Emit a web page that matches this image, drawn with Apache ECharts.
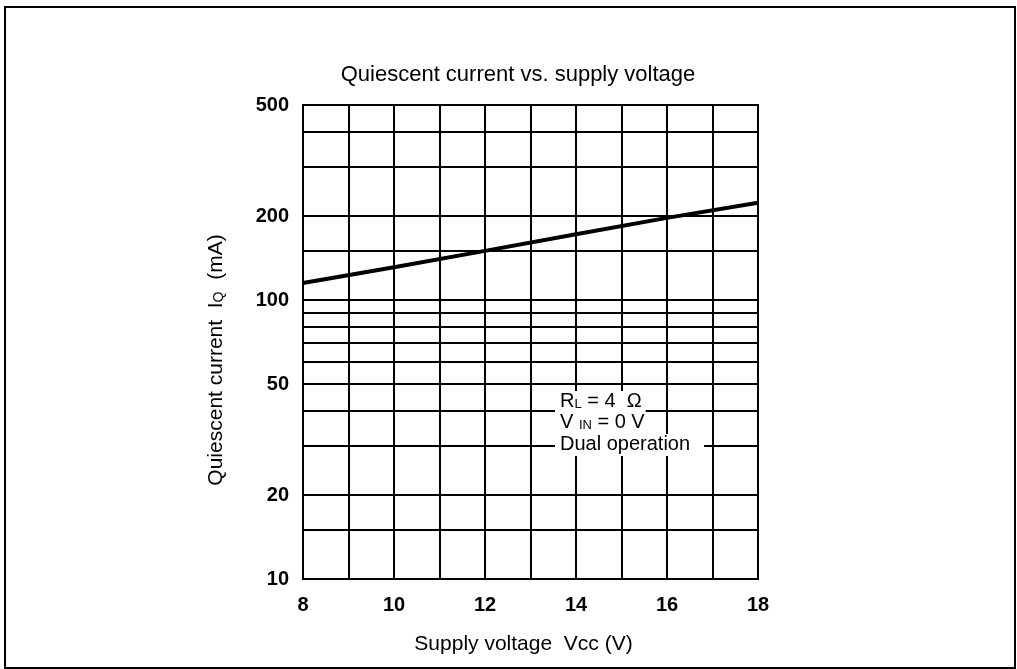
<!DOCTYPE html>
<html>
<head>
<meta charset="utf-8">
<script src="https://cdn.jsdelivr.net/npm/echarts@6/dist/echarts.min.js"></script>
<style>
html,body{margin:0;padding:0;background:#fff;}
#chart{width:1017px;height:669px;}
</style>
</head>
<body>
<div id="chart"></div>
<script>
// Data
const supplyVoltage = [8, 10, 12, 14, 16, 18];
const quiescentCurrent = [115, 131, 150, 172, 197, 223];
const yGridValues = [15, 20, 30, 40, 50, 60, 70, 80, 90, 100, 150, 200, 300, 400];
const yLabelValues = [10, 20, 50, 100, 200, 500];
const xLabelValues = [8, 10, 12, 14, 16, 18];

const FONT = '"Liberation Sans", Arial, Helvetica, sans-serif';
const chart = echarts.init(document.getElementById('chart'));

chart.setOption({
  backgroundColor: '#fff',
  animation: false,
  textStyle: { fontFamily: FONT, color: '#000' },
  title: {
    text: 'Quiescent current vs. supply voltage',
    left: 513, top: 59, textAlign: 'center',
    textStyle: { fontFamily: FONT, fontSize: 22, fontWeight: 'normal', color: '#000' }
  },
  grid: {
    left: 303, right: 259, top: 105, bottom: 90,
    show: true, borderColor: '#000', borderWidth: 2, backgroundColor: 'transparent'
  },
  xAxis: {
    type: 'value', min: 8, max: 18, interval: 1,
    name: 'Supply voltage  Vcc (V)',
    nameLocation: 'middle', nameGap: 55,
    nameTextStyle: { fontFamily: FONT, fontSize: 21, color: '#000', padding: [0, 14, 0, 0] },
    axisLine: { show: true, lineStyle: { color: '#000', width: 2 } },
    axisTick: { show: false },
    splitLine: { show: true, lineStyle: { color: '#000', width: 2 } },
    axisLabel: {
      margin: 16, fontFamily: FONT, fontSize: 20, fontWeight: 'bold', color: '#000',
      formatter: v => xLabelValues.includes(v) ? String(v) : ''
    }
  },
  yAxis: {
    type: 'log', logBase: 10, min: 10, max: 500,
    name: '{n|Quiescent current  I}{s|Q}{n|  (mA)}',
    nameLocation: 'middle', nameGap: 76, nameRotate: 90,
    nameTextStyle: {
      fontFamily: FONT, fontSize: 21, color: '#000', padding: [0, 36, 0, 0],
      rich: {
        n: { fontFamily: FONT, fontSize: 21, color: '#000' },
        s: { fontFamily: FONT, fontSize: 14, color: '#000', padding: [6, 0, 0, 0] }
      }
    },
    axisLine: { show: true, lineStyle: { color: '#000', width: 2 } },
    axisTick: { show: false },
    splitLine: { show: false },
    axisLabel: {
      customValues: yLabelValues,
      margin: 14, fontFamily: FONT, fontSize: 20, fontWeight: 'bold', color: '#000'
    }
  },
  series: [
    {
      type: 'line', data: [], z: 1, silent: true,
      markLine: {
        silent: true, symbol: ['none', 'none'], label: { show: false },
        lineStyle: { color: '#000', width: 2, type: 'solid' },
        data: yGridValues.map(v => ({ yAxis: v }))
      }
    },
    {
      type: 'line', z: 5,
      data: supplyVoltage.map((x, i) => [x, quiescentCurrent[i]]),
      showSymbol: false, symbol: 'none',
      lineStyle: { color: '#000', width: 4 }
    }
  ],
  graphic: [
    {
      type: 'rect', z: 100, silent: true,
      shape: { x: 5, y: 7, width: 1010, height: 661 },
      style: { fill: 'none', stroke: '#000', lineWidth: 2 }
    },
    {
      type: 'text', left: 555, top: 391, z: 100,
      style: {
        text: '{n|R}{s|L}{n| = 4  Ω}',
        backgroundColor: '#fff', padding: [0, 4, 0, 5],
        rich: {
          n: { fontFamily: FONT, fontSize: 20, color: '#000', lineHeight: 21 },
          s: { fontFamily: FONT, fontSize: 13, color: '#000', lineHeight: 21, padding: [5, 0, 0, 0] }
        }
      }
    },
    {
      type: 'text', left: 555, top: 412, z: 100,
      style: {
        text: '{n|V }{s|IN}{n| = 0 V}',
        backgroundColor: '#fff', padding: [0, 6, 1, 5],
        rich: {
          n: { fontFamily: FONT, fontSize: 20, color: '#000', lineHeight: 21 },
          s: { fontFamily: FONT, fontSize: 13, color: '#000', lineHeight: 21, padding: [5, 0, 0, 0] }
        }
      }
    },
    {
      type: 'text', left: 555, top: 434, z: 100,
      style: {
        text: 'Dual operation',
        fontFamily: FONT, fontSize: 20, fill: '#000', lineHeight: 21,
        backgroundColor: '#fff', padding: [0, 14, 1, 5]
      }
    }
  ]
});
</script>
</body>
</html>
